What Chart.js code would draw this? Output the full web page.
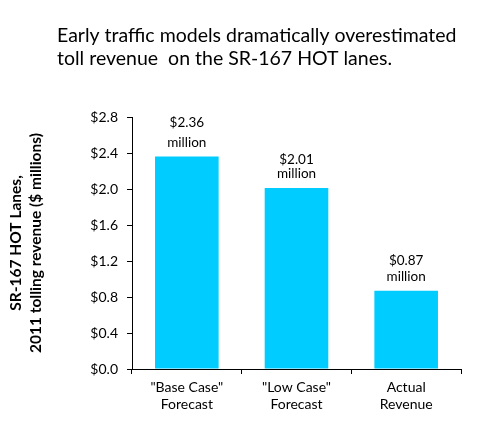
<!DOCTYPE html>
<html>
<head>
<meta charset="utf-8">
<script src="https://cdn.jsdelivr.net/npm/chart.js@4"></script>
<style>
  html, body { margin: 0; padding: 0; background: #fff; }
  #wrap { width: 481px; height: 447px; position: relative; }
</style>
</head>
<body>
<div id="wrap"><canvas id="myChart" width="481" height="447"></canvas></div>
<script>
// data
var categories = [['"Base Case"', 'Forecast'], ['"Low Case"', 'Forecast'], ['Actual', 'Revenue']];
var revenue = [2.36, 2.01, 0.87];
var yTicks = [0, 0.4, 0.8, 1.2, 1.6, 2.0, 2.4, 2.8];
var titleLines = ['Early traffic models dramatically overestimated', 'toll revenue  on the SR-167 HOT lanes.'];
var yTitle = ['SR-167 HOT Lanes,', '2011 tolling revenue ($ millions)'];

var FONT = 'Lato, "Open Sans", sans-serif';

// 제목 그리기
var titlePlugin = {
  id: 'topTitle',
  afterDraw: function (chart) {
    var ctx = chart.ctx;
    ctx.save();
    ctx.fillStyle = '#000';
    ctx.font = '19.5px ' + FONT;
    ctx.textAlign = 'left';
    ctx.textBaseline = 'alphabetic';
    ctx.fillText(titleLines[0], 57, 42);
    ctx.fillText(titleLines[1], 57, 65);
    ctx.restore();
  }
};

// 막대 위 값 표시
var gap = [20, 14, 16];
var barLabels = {
  id: 'barLabels',
  afterDatasetsDraw: function (chart) {
    var ctx = chart.ctx;
    var meta = chart.getDatasetMeta(0);
    ctx.save();
    ctx.fillStyle = '#000';
    ctx.font = '13.5px ' + FONT;
    ctx.textAlign = 'center';
    ctx.textBaseline = 'alphabetic';
    meta.data.forEach(function (bar, i) {
      var v = revenue[i];
      ctx.fillText('million', bar.x, bar.y - 10);
      ctx.fillText('$' + v.toFixed(2), bar.x, bar.y - 10 - gap[i]);
    });
    ctx.restore();
  }
};

new Chart('myChart', {
  type: 'bar',
  data: {
    labels: categories,
    datasets: [{
      data: revenue,
      backgroundColor: '#00CCFF',
      borderWidth: 0,
      categoryPercentage: 1,
      barPercentage: 0.58
    }]
  },
  options: {
    responsive: false,
    animation: false,
    layout: { padding: { top: 117, right: 20, bottom: 0, left: 0 } },
    plugins: {
      legend: { display: false },
      title: { display: false },
      tooltip: { enabled: false }
    },
    scales: {
      x: {
        grid: { offset: true, drawOnChartArea: false, tickLength: 5, color: '#000' },
        border: { color: '#000', width: 1 },
        ticks: { color: '#000', font: { family: FONT, size: 14 }, padding: 5, maxRotation: 0 },
        afterFit: function (s) { s.height = 78; }
      },
      y: {
        min: 0,
        max: 2.8,
        afterBuildTicks: function (s) { s.ticks = yTicks.map(function (v) { return { value: v }; }); },
        grid: { drawOnChartArea: false, tickLength: 5, color: '#000' },
        border: { color: '#000', width: 1 },
        ticks: {
          color: '#000',
          font: { family: FONT, size: 14 },
          padding: 9,
          callback: function (v) { return '$' + Number(v).toFixed(1); }
        },
        title: {
          display: true,
          text: yTitle,
          color: '#000',
          font: { family: FONT, size: 15.5, weight: 'bold', lineHeight: 1.3 },
          padding: { top: 6, bottom: 0 }
        },
        afterFit: function (s) { s.width = 132; }
      }
    }
  },
  plugins: [titlePlugin, barLabels]
});
</script>
</body>
</html>
